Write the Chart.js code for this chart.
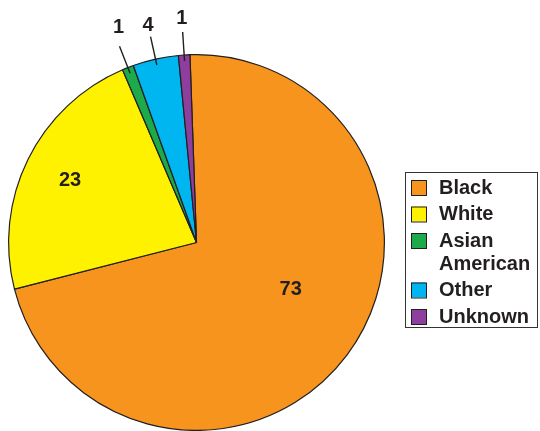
<!DOCTYPE html>
<html>
<head>
<meta charset="utf-8">
<script src="https://cdn.jsdelivr.net/npm/chart.js@4.4.1/dist/chart.umd.min.js"></script>
<style>
  html, body { margin: 0; padding: 0; background: #ffffff; }
  #wrap { position: relative; width: 540px; height: 431px; }
</style>
</head>
<body>
<div id="wrap"><canvas id="c" width="540" height="431"></canvas></div>
<script>
// ---- data ----
const categories = ['Black', 'White', ['Asian', 'American'], 'Other', 'Unknown'];
const values = [73, 23, 1, 4, 1];
const valueLabels = ['73', '23', '1', '4', '1'];

// ---- styles ----
const colors = ['#F7941D', '#FFF200', '#1DAA4B', '#00B6F0', '#8E3F9E'];
const ink = '#231F20';
// label placement: inside (fraction of arc, fraction of radius) or outside with leader
const labelStyle = [
  { mode: 'in', arcFrac: 0.46, radFrac: 0.56 },
  { mode: 'in', arcFrac: 0.5, radFrac: 0.75 },
  { mode: 'out', gap: 41, turn: 1.5 },
  { mode: 'out', gap: 34, turn: 0 },
  { mode: 'out', gap: 37, turn: 0 }
];

const labelPlugin = {
  id: 'sliceLabels',
  afterDatasetsDraw(chart) {
    const ctx = chart.ctx;
    const meta = chart.getDatasetMeta(0);
    ctx.save();
    ctx.font = 'bold 20px "Liberation Sans", Arial, sans-serif';
    ctx.fillStyle = ink;
    ctx.strokeStyle = ink;
    ctx.textAlign = 'center';
    ctx.textBaseline = 'middle';
    meta.data.forEach((arc, i) => {
      const p = arc.getProps(['x', 'y', 'startAngle', 'endAngle', 'outerRadius'], true);
      const st = labelStyle[i];
      if (st.mode === 'in') {
        const a = p.startAngle + (p.endAngle - p.startAngle) * st.arcFrac;
        const r = p.outerRadius * st.radFrac;
        ctx.fillText(valueLabels[i], p.x + r * Math.cos(a), p.y + r * Math.sin(a));
      } else {
        const a = (p.startAngle + p.endAngle) / 2;
        const r0 = p.outerRadius - 6, r1 = p.outerRadius + 23, r2 = p.outerRadius + st.gap;
        const a2 = a + st.turn * Math.PI / 180;
        ctx.lineWidth = 1.4;
        ctx.beginPath();
        ctx.moveTo(p.x + r0 * Math.cos(a), p.y + r0 * Math.sin(a));
        ctx.lineTo(p.x + r1 * Math.cos(a), p.y + r1 * Math.sin(a));
        ctx.stroke();
        ctx.fillText(valueLabels[i], p.x + r2 * Math.cos(a2), p.y + r2 * Math.sin(a2));
      }
    });
    ctx.restore();
  }
};

const legendPlugin = {
  id: 'boxLegend',
  afterDraw(chart) {
    const ctx = chart.ctx;
    const labels = chart.data.labels;
    const bg = chart.data.datasets[0].backgroundColor;
    ctx.save();
    // frame
    ctx.strokeStyle = '#333333';
    ctx.lineWidth = 1;
    ctx.strokeRect(405.5, 172.5, 132, 155);
    ctx.font = 'bold 20px "Liberation Sans", Arial, sans-serif';
    ctx.textAlign = 'left';
    ctx.textBaseline = 'middle';
    let y = 188;
    labels.forEach((lab, i) => {
      const lines = Array.isArray(lab) ? lab : [lab];
      ctx.fillStyle = bg[i];
      ctx.fillRect(411, y - 8, 15, 15);
      ctx.strokeStyle = ink;
      ctx.strokeRect(411.5, y - 7.5, 15, 15);
      ctx.fillStyle = ink;
      lines.forEach((t, k) => {
        ctx.fillText(t, 439, y + k * 23);
      });
      y += (lines.length - 1) * 23 + 26.5;
    });
    ctx.restore();
  }
};

new Chart(document.getElementById('c'), {
  type: 'pie',
  data: {
    labels: categories,
    datasets: [{
      data: values,
      backgroundColor: colors,
      borderColor: ink,
      borderWidth: 1.2
    }]
  },
  options: {
    responsive: false,
    animation: false,
    rotation: -2,
    layout: { padding: { left: 8, right: 155, top: 54, bottom: 0 } },
    plugins: { legend: { display: false }, tooltip: { enabled: false } }
  },
  plugins: [labelPlugin, legendPlugin]
});
</script>
</body>
</html>
